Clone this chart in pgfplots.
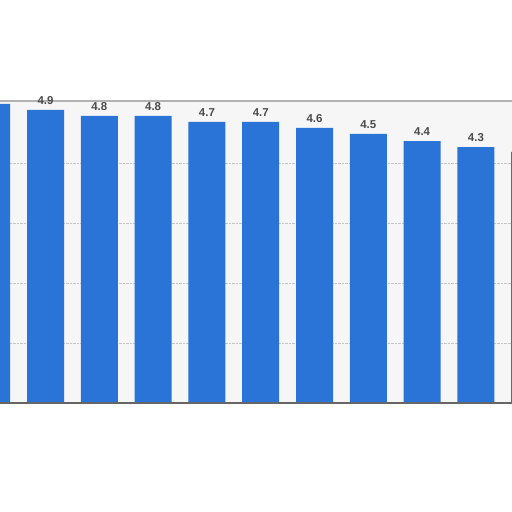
\documentclass[border=0pt]{standalone}
\usepackage{pgfplots}
\pgfplotsset{compat=1.18}
\usepackage{fontspec}
\setmainfont{Liberation Sans}
\definecolor{barblue}{HTML}{2A73D7}
\definecolor{lbl}{HTML}{4A4A4A}
\definecolor{bg}{HTML}{F6F6F6}
\begin{document}
\begin{tikzpicture}
\useasboundingbox (0,0) rectangle (512bp,512bp);
\clip (0,0) rectangle (512bp,512bp);
\begin{axis}[
 at={(0,109bp)},anchor=south west,
 scale only axis,width=512bp,height=302bp,
 xmin=0.154,xmax=9.671,ymin=0,ymax=5.05,
 clip=false,
 axis background/.style={fill=bg},
 axis line style={draw=none},
 xtick=\empty,ytick={1,2,3,4},yticklabels={},
 major tick length=0pt,
 ymajorgrids,grid style={gray!45,densely dotted,line width=0.6pt},
 ybar,bar width=37bp,
 point meta=explicit symbolic,
 nodes near coords,
 every node near coord/.append style={font=\fontsize{11.5}{12}\selectfont\bfseries,
   text=lbl,yshift=2bp},
]
\addplot[fill=barblue,draw=none] coordinates {
 (0,5.0) [{}] (1,4.9) [4.9] (2,4.8) [4.8] (3,4.8) [4.8] (4,4.7) [4.7] (5,4.7) [4.7]
 (6,4.6) [4.6] (7,4.5) [4.5] (8,4.38) [4.4] (9,4.28) [4.3] (10,4.2) [{}]
};
\draw[gray!60,line width=1.2pt] (rel axis cs:0,1) -- (rel axis cs:1,1);
\draw[gray!80!black,line width=1.5pt] (rel axis cs:0,0) -- (rel axis cs:1,0);
\end{axis}
\end{tikzpicture}
\end{document}
